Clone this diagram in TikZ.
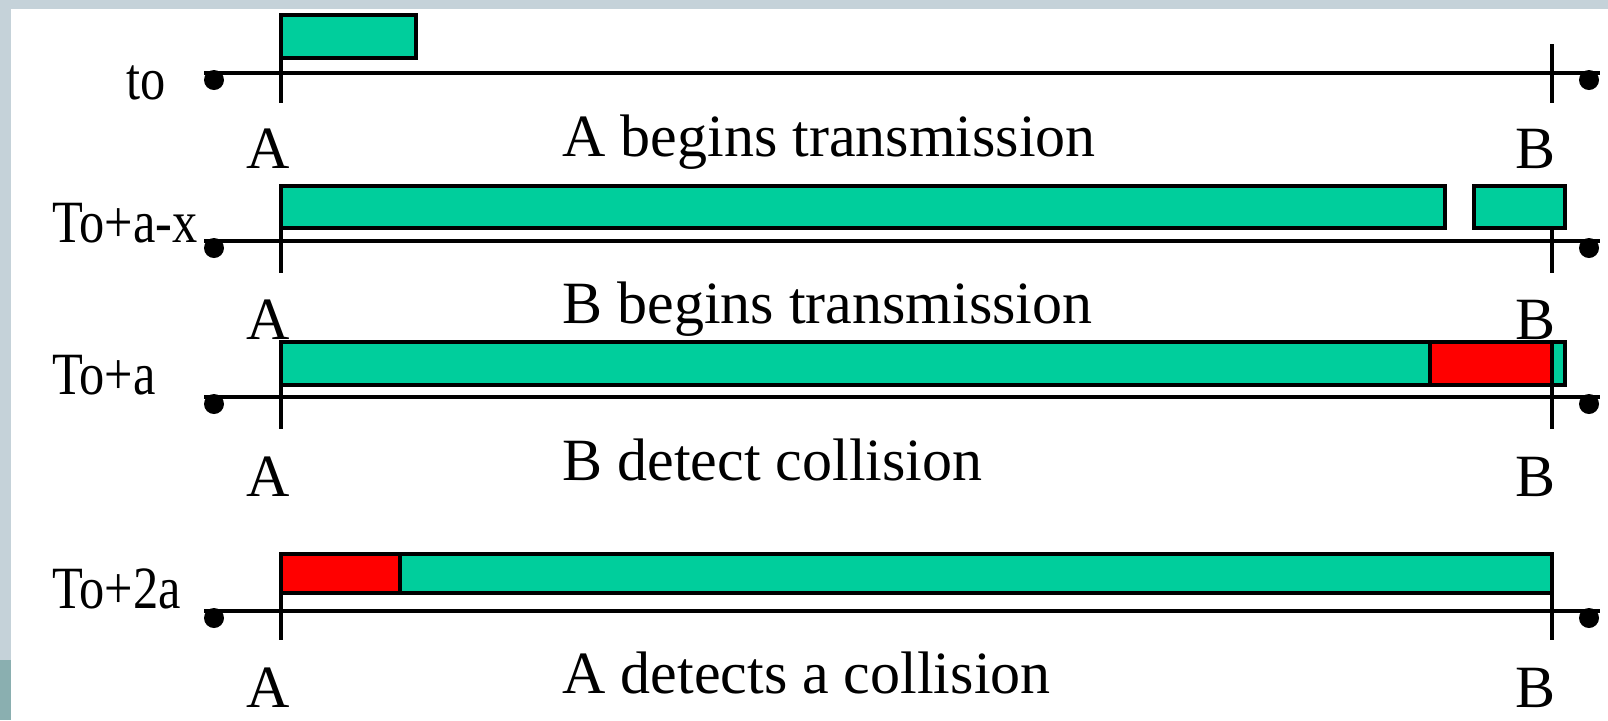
\documentclass[tikz,border=0pt]{standalone}
\usepackage{fontspec}
\setmainfont{Liberation Serif}
\definecolor{pktgreen}{RGB}{0,206,156}
\definecolor{pktred}{RGB}{255,0,0}
\definecolor{frameblue}{RGB}{197,210,217}
\definecolor{frameteal}{RGB}{138,175,176}

\begin{document}
\begin{tikzpicture}[
      x=0.5pt, y=-0.5pt,
      pkt/.style={draw, line width=2pt, fill=pktgreen},
      jam/.style={draw, line width=2pt, fill=pktred},
      wire/.style={line width=2pt},
      endpt/.style={circle, fill, inner sep=0pt, minimum size=10pt},
      txt/.style={inner sep=0pt, font=\fontsize{30}{30}\selectfont},
      tlabel/.style={txt, anchor=base west},
      stn/.style={txt, anchor=base},
      caption/.style={txt, anchor=base west}
    ]
      \useasboundingbox (0,0) rectangle (1608,720);
      \fill[frameblue] (0,0) rectangle (1608,9);
      \fill[frameblue] (0,9) rectangle (11,660);
      \fill[frameteal] (0,660) rectangle (11,720);

      % time lines with their end dots
      \foreach \y/\n in {73/1,241/2,397/3,611/4}{
        \node[endpt] (left\n) at (214,\y+7) {};
        \node[endpt] (right\n) at (1589,\y+7) {};
        \coordinate (ea\n) at (204,\y);
        \coordinate (eb\n) at (1600,\y);
        \draw[wire] (ea\n) -- (eb\n);
      }

      % frames on the wire
      \draw[pkt] (281,15) rectangle (416,58);
      \draw[pkt] (281,186) rectangle (1445,228);
      \draw[pkt] (1474,186) rectangle (1565,228);
      \draw[pkt] (281,342) rectangle (1565,385);
      \draw[jam] (1430,342) rectangle (1552,385);
      \draw[pkt] (281,554) rectangle (1552,593);
      \draw[jam] (281,554) rectangle (400,593);

      % station marks
      \draw[wire] (281,15) -- (281,103);
      \draw[wire] (1552,44) -- (1552,103);
      \draw[wire] (281,186) -- (281,273);
      \draw[wire] (1552,228) -- (1552,273);
      \draw[wire] (281,342) -- (281,429);
      \draw[wire] (1552,342) -- (1552,429);
      \draw[wire] (281,554) -- (281,640);
      \draw[wire] (1552,554) -- (1552,640);

      \node[tlabel] (t1) at (126,99) {\scalebox{0.84}[1]{to}};
      \node[tlabel] (t2) at (52,242) {\scalebox{0.84}[1]{To+a-x}};
      \node[tlabel] (t3) at (52,394) {\scalebox{0.84}[1]{To+a}};
      \node[tlabel] (t4) at (52,608) {\scalebox{0.84}[1]{To+2a}};

      \foreach \y/\n in {168/1,339/2,496/3,707/4}{
        \node[stn] (sa\n) at (268,\y) {A};
        \node[stn] (sb\n) at (1535,\y) {B};
      }

      \node[caption] (c1) at (562,156) {A begins transmission};
      \node[caption] (c2) at (562,323) {B begins transmission};
      \node[caption] (c3) at (562,480) {B detect collision};
      \node[caption] (c4) at (562,693) {A detects a collision};
    \end{tikzpicture}
\end{document}
